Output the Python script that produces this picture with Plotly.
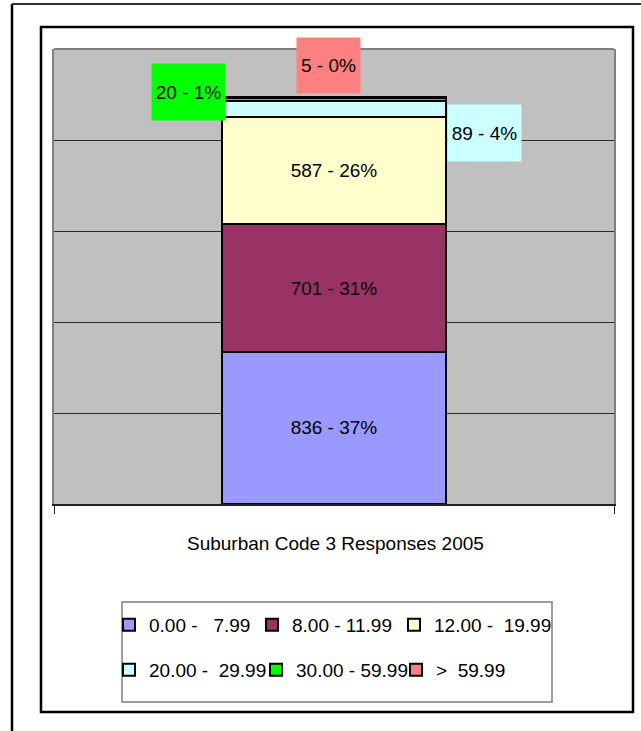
import plotly.graph_objects as go

# ---- data ----
categories = ["0.00 -\u00a0\u00a0\u00a07.99", "8.00 -\u00a011.99", "12.00 -\u00a0\u00a019.99",
              "20.00 -\u00a0\u00a029.99", "30.00 - 59.99", ">\u00a0\u00a059.99"]
counts = [836, 701, 587, 89, 20, 5]
colors = ["#9999FF", "#993366", "#FFFFCC", "#CCFFFF", "#00FF00", "#FF8080"]
bar_label = "Suburban Code 3 Responses 2005"

total = sum(counts)
labels = [f"{c} - {round(100 * c / total)}%" for c in counts]

FONT = "Liberation Sans, Arial, sans-serif"
FS = 19

W, H = 641, 731
L, R, T, B = 54, 614, 49, 504  # plot area in pixels

# legend entry widths (px) per item: row 1 = first three, row 2 = last three
entry_widths = [98, 97, 130, 102, 95, 100]


def px(x):
    return (x - L) / (R - L)


def py(y):
    return (B - y) / (B - T)


fig = go.Figure()
for i, (name, c, col, lab) in enumerate(zip(categories, counts, colors, labels)):
    inside = i < 3
    fig.add_trace(go.Bar(
        x=[""], y=[c], name=name,
        marker=dict(color=col, line=dict(color="#000000", width=2)),
        text=[lab if inside else ""], textposition="inside" if inside else "none",
        insidetextanchor="middle", textangle=0,
        textfont=dict(family=FONT, size=FS, color="#000000"),
        width=0.4,
        legend="legend" if i < 3 else "legend2",
        legendwidth=entry_widths[i],
        hoverinfo="skip",
    ))

cum = [sum(counts[:i + 1]) for i in range(len(counts))]

annotations = [
    # 89 - 4% : right of bar
    dict(x=0.2, y=cum[3], xref="x", yref="y", xanchor="left", yanchor="top",
         text=labels[3], bgcolor=colors[3], showarrow=False, width=73, height=56,
         borderpad=0, yshift=-3, xshift=1, font=dict(family=FONT, size=FS, color="#000")),
    # 20 - 1% : left of bar
    dict(x=-0.2, y=cum[4], xref="x", yref="y", xanchor="right", yanchor="middle",
         text=labels[4], bgcolor=colors[4], showarrow=False, width=73, height=56,
         borderpad=0, yshift=6, xshift=4, font=dict(family=FONT, size=FS, color="#000")),
    # 5 - 0% : above bar
    dict(x=0, y=cum[5], xref="x", yref="y", xanchor="center", yanchor="bottom",
         text=labels[5], bgcolor=colors[5], showarrow=False, width=63, height=55,
         borderpad=0, yshift=3, xshift=-6, font=dict(family=FONT, size=FS, color="#000")),
    # category title
    dict(x=px(335), y=py(543), xref="paper", yref="paper", xanchor="center", yanchor="middle",
         text=bar_label, showarrow=False, font=dict(family=FONT, size=FS, color="#000")),
]

shapes = [
    # top border of plot area
    dict(type="line", xref="paper", yref="paper", x0=0, x1=1, y0=1, y1=1,
         line=dict(color="#808080", width=2)),
    # legend box
    dict(type="rect", xref="paper", yref="paper", x0=px(122), x1=px(552), y0=py(602), y1=py(702),
         line=dict(color="#808080", width=1.5)),
    # inner frame
    dict(type="rect", xref="paper", yref="paper", x0=px(41), x1=px(633), y0=py(27), y1=py(712),
         line=dict(color="#000000", width=2.5)),
    # outer frame lines
    dict(type="line", xref="paper", yref="paper", x0=px(12), x1=px(12), y0=py(4), y1=py(731),
         line=dict(color="#000000", width=2.5)),
    dict(type="line", xref="paper", yref="paper", x0=px(12), x1=px(641), y0=py(4), y1=py(4),
         line=dict(color="#333333", width=2)),
]

fig.update_layout(
    width=W, height=H,
    margin=dict(l=L, r=W - R, t=T, b=H - B),
    paper_bgcolor="#FFFFFF", plot_bgcolor="#C0C0C0",
    barmode="stack", bargap=0.6,
    font=dict(family=FONT, size=FS, color="#000000"),
    showlegend=True,
    legend=dict(orientation="h", x=px(109), xanchor="left", y=py(625), yanchor="middle",
                entrywidthmode="pixels", bgcolor="rgba(0,0,0,0)",
                borderwidth=0, font=dict(family=FONT, size=FS), traceorder="normal"),
    legend2=dict(orientation="h", x=px(109), xanchor="left", y=py(670), yanchor="middle",
                 entrywidthmode="pixels", bgcolor="rgba(0,0,0,0)",
                 borderwidth=0, font=dict(family=FONT, size=FS), traceorder="normal"),
    xaxis=dict(type="category", range=[-0.5, 0.5], showline=True, linecolor="#222222",
               linewidth=2, ticks="outside", tickson="boundaries", ticklen=8,
               tickcolor="#222222", tickwidth=1, showticklabels=False, showgrid=False,
               zeroline=False, fixedrange=True),
    yaxis=dict(range=[0, 2500], dtick=500, showgrid=True, gridcolor="#2a2a2a", gridwidth=1,
               showticklabels=False, ticks="", zeroline=False, showline=True,
               linecolor="#808080", linewidth=2, mirror=True, fixedrange=True),
    annotations=annotations, shapes=shapes,
)

fig.write_html("out.html", config={"displayModeBar": False},
               post_script="document.body.style.margin='0px';")
